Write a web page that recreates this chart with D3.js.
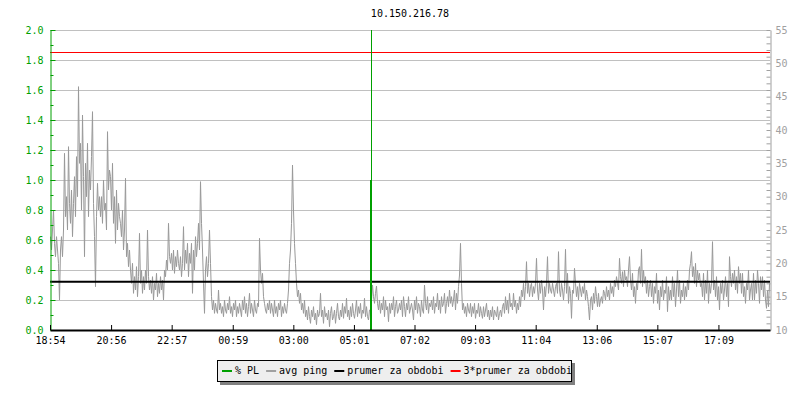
<!DOCTYPE html>
<html><head><meta charset="utf-8">
<script src="https://cdn.jsdelivr.net/npm/d3@7"></script>
<style>
body{margin:0;background:#fff}
svg{display:block}
text{font-family:"DejaVu Sans Mono",monospace;font-size:10px}
</style>
</head><body>
<svg id="c" width="800" height="400"></svg>
<script>
// ---------- data ----------
const title = "10.150.216.78";
const startTime = "18:54";
const endTime = "18:52";          // next day
const sampleStepMin = 2;          // minutes between ping samples
const xTickLabels = ["18:54","20:56","22:57","00:59","03:00","05:01","07:02","09:03","11:04","13:06","15:07","17:09"];
const plTicks = [0.0,0.2,0.4,0.6,0.8,1.0,1.2,1.4,1.6,1.8,2.0];
const plMinorTicks = [0.1,0.3,0.5,0.7,0.9,1.1,1.3,1.5,1.7,1.9];
const pingTicks = [10,15,20,25,30,35,40,45,50,55];
const pingMinorTicks = [11,12,13,14,16,17,18,19,21,22,23,24,26,27,28,29,31,32,33,34,36,37,38,39,41,42,43,44,46,47,48,49,51,52,53,54];
const pingValues = [
24,22,25,28,23,21,24,22,20,14.5,
22,24,21,25,36.5,27,30,25,37.5,29,
26,31,24,29,33,27,36,30,46.5,35,
38,28,42.25,33,21,35,30,38,27,34,
31,36,42.75,29,24,16.5,27,32,28,30,
27,30,26,32.5,28,29,25,39.75,31,34,
33,28,35,26,30,23,31,25,29,27,
26,24,28,22,25,32.75,21,23,19.5,22,
19,17,20,15.5,18,16,19.5,15,18,24.5,
17,19,15.5,18,16,19,17,25,18,16,
17.5,15.5,18,14.5,17,16,18.5,15,17,15.5,
18,16,17.5,14.5,19,18,20.5,19,26,21,
20,21.5,19,22,18.5,21,19.5,22,20,19,
21,18,20,25.5,19,22,20,23,18,21.5,
20,23,15.5,22,19,24,21,23,26,22,
32.25,26,22,17,12.5,19,21,18,20,25,
20,15,13,14.5,12.5,14,13,12.5,16,13,
14,12.5,13.5,12,14.5,13,12.5,14,13,15,
12.5,13.5,12,14,13,14.5,12,13.5,12.5,14,
13,12,14.5,13,15,12.5,14,12,13.5,15.5,
12.5,14,13,12,14.5,13,12.5,14,13.5,23.75,
19,17,18.5,15,14,13,12.5,14,13,14.5,
12.5,14,13,12,14.5,12.5,13.5,12,14,13,
14.5,12,13.5,12.5,14,13,12.5,14,16,20,
22,26,34.75,28,23,20,17,15,16,14,
15.5,13,14,12.5,14.5,12,13,11.5,13.5,12,
11,13,12,13.5,11.5,12.5,10.8,13,12,12.5,
15.5,12,13,11,13.5,12,12.5,11.5,13,10.5,
12.5,13.5,11.5,12,13,11,12.5,14,12,11.5,
13,12,14,11.75,13.5,12.5,14.75,12,13,11.5,
13.5,12,14,12.5,11.75,13,14.5,12,13.5,12.5,
14,11.75,13,12.5,14.75,12,13.5,12,11.5,13,
13,14.5,16.75,15,14,15.5,16.6,14,13,14.5,
12.5,14,13,15,12,14.5,13,13.5,11.25,14,
12.5,14,13,15,12,13.5,14.5,12.5,13,14,
13,14.5,12,15,13.5,12,14,13,15,12.5,
14,13,11.5,14.5,13,15,12.5,14,13.5,12,
14.5,13,12.5,16.75,14,13,15,12.5,14,13.5,
14.5,13,15,12.5,14,13.5,15.5,13,14.5,12.5,
15,13.5,14,15.5,12.5,14,15,13.5,16,14,
15,13.5,14.5,16,13,15.5,14,16.5,18.25,23,
17,13,14,12.5,13.5,12,14,13,12.5,14,
12,13.5,12.5,14,11.75,13,12.5,14,12,13.5,
12.5,11.75,13.5,12,13,14,12,13,11.5,13,
12,13.5,11.5,13,12.5,12,13.5,11.5,12.5,13,
12,13.5,14,12.5,15,13,14.5,12.5,15.5,13.5,
14,13,15.5,13.5,14.5,12.5,14,13,15,13.5,
16,15,17,14.5,16.5,20.25,15.5,17,15,16.5,
17,15,16.5,15.5,17,20.75,16,14.5,17,15.5,
17.5,16,13,16.5,15,17,21,15.5,17,16,
15.5,17,16,15,16.5,17,15.5,21.75,16,15,
17,16,14.5,16.5,22.1,15.5,18.5,14,16.5,15.5,
11.75,16,15.5,19.25,17,15,16.5,14.5,17,16,
15,16.5,15.5,17,14.5,16,15,13.5,11.5,14.5,
15,13,15.5,14,16.5,15,13.5,15.5,13.5,14.5,
15,14,16,15.5,14.5,16.5,15,16,14.5,17,
15.5,16.5,15,17.5,16.5,18,17,16,20.75,18,
17,18.75,16.5,19,17.5,18,16.5,19,21,17.5,
16,18.5,15,16.5,14,17,16,19,19.5,17,
22.1,16.5,19,17,18,15.5,17.5,15,16.5,17.5,
15,17,14,16.5,15.5,18.5,14,16,13,16.5,
15,17.5,14.5,16,15.5,18,12.75,16.5,14.5,16,
14.5,18,15,17,13.5,16,19,15,17.5,14,
16,15,17,14.5,16.5,15,17.5,16,19,20,
21.75,18,19.5,17,20,16.5,19,17.5,18.5,16.5,
17,15,18.5,14.5,17.5,15.5,19,14,17,15.5,
17,23.25,16,17.5,15,18,14.5,16.5,13,17,
15.5,17.5,14.5,16,18,15,17,13.5,21,18,
16.5,18.5,17,19,16,18,15.5,19.5,17,18.5,
15.5,18.5,15,16.5,14,17,16,19,14.5,16,
17,14.5,18.5,14.5,17.5,15.5,19,17,14,18,
16,18,15,17.5,14.5,13.25,16,13.5,17,15.5
];
const plEventTime = "05:36";
const plEventValue = 1.0;
const meanPing = 17.25;
const legendLabels = ["% PL","avg ping","prumer za obdobi","3*prumer za obdobi"];
const legendColors = ["#00a000","#a0a0a0","#000000","#ff0000"];

// ---------- helpers ----------
const base = new Date(2000,0,1,18,54);
const startMin = 18*60+54;
function toDate(hm){
  const [h,m] = hm.split(":").map(Number);
  let t = h*60+m;
  if (t < startMin) t += 1440;
  return new Date(base.getTime() + (t-startMin)*60000);
}
function toDateEnd(hm){
  const [h,m] = hm.split(":").map(Number);
  let t = h*60+m;
  if (t <= startMin) t += 1440;
  return new Date(base.getTime() + (t-startMin)*60000);
}

// ---------- layout ----------
const L=50, R=770, T=30, B=330;
const svg = d3.select("#c");
const x = d3.scaleTime().domain([toDate(startTime), toDateEnd(endTime)]).range([L,R]);
const yPL = d3.scaleLinear().domain([0,2]).range([B,T]);
const yPing = d3.scaleLinear().domain([10,55]).range([B,T]);
const green = "#00a000", grey="#a0a0a0";

svg.append("text").attr("x",410).attr("y",17).attr("text-anchor","middle").attr("fill","#000").text(title);

// gridlines
svg.append("g").selectAll("line").data(plTicks.filter(d=>d>0)).join("line")
  .attr("x1",L).attr("x2",R).attr("y1",d=>Math.round(yPL(d))+0.5).attr("y2",d=>Math.round(yPL(d))+0.5)
  .attr("stroke","#c0c0c0").attr("stroke-width",1);

// clip
svg.append("clipPath").attr("id","clip").append("rect").attr("x",L).attr("y",T).attr("width",R-L).attr("height",B-T);

// ping line
const pingData = pingValues.map((v,i)=>({t:new Date(base.getTime()+i*sampleStepMin*60000), v}));
svg.append("path").datum(pingData).attr("clip-path","url(#clip)")
  .attr("fill","none").attr("stroke","#999999").attr("stroke-width",1)
  .attr("d", d3.line().x(d=>Math.round(x(d.t))+0.5).y(d=>yPing(d.v)));

// mean lines
svg.append("line").attr("x1",L).attr("x2",R).attr("y1",yPing(meanPing)).attr("y2",yPing(meanPing))
  .attr("stroke","#000").attr("stroke-width",2);
svg.append("line").attr("x1",L).attr("x2",R).attr("y1",Math.round(yPing(3*meanPing))+0.5).attr("y2",Math.round(yPing(3*meanPing))+0.5)
  .attr("stroke","#ff0000").attr("stroke-width",1);

// PL event
const px = Math.round(x(toDate(plEventTime)));
svg.append("line").attr("x1",px+0.5).attr("x2",px+0.5).attr("y1",T).attr("y2",B)
  .attr("stroke",green).attr("stroke-width",1);
svg.append("line").attr("x1",px).attr("x2",px).attr("y1",yPL(plEventValue)).attr("y2",B)
  .attr("stroke",green).attr("stroke-width",2);

// left axis
const gl = svg.append("g").attr("transform",`translate(${L+0.5},0)`)
  .call(d3.axisLeft(yPL).tickValues(plTicks).tickFormat(d3.format(".1f")).tickSize(-5).tickSizeOuter(0).tickPadding(7));
gl.select(".domain").attr("stroke",green);
gl.selectAll(".tick line").attr("stroke",green);
gl.selectAll(".tick text").attr("fill",green).style("font-size","10px").style("font-family","DejaVu Sans Mono");
const glm = svg.append("g").attr("transform",`translate(${L+0.5},0)`)
  .call(d3.axisLeft(yPL).tickValues(plMinorTicks).tickFormat("").tickSize(-3).tickSizeOuter(0));
glm.select(".domain").remove();
glm.selectAll(".tick line").attr("stroke",green);

// right axis
const gr = svg.append("g").attr("transform",`translate(${R+0.5},0)`)
  .call(d3.axisRight(yPing).tickValues(pingTicks).tickSize(-4).tickSizeOuter(0).tickPadding(5));
gr.select(".domain").attr("stroke",grey);
gr.selectAll(".tick line").attr("stroke",grey);
gr.selectAll(".tick text").attr("fill",grey).style("font-size","10px").style("font-family","DejaVu Sans Mono");
const grm = svg.append("g").attr("transform",`translate(${R+0.5},0)`)
  .call(d3.axisRight(yPing).tickValues(pingMinorTicks).tickFormat("").tickSize(-4).tickSizeOuter(0));
grm.select(".domain").remove();
grm.selectAll(".tick line").attr("stroke",grey);

// bottom axis
const gb = svg.append("g").attr("transform",`translate(0,${B})`)
  .call(d3.axisBottom(x).tickValues(xTickLabels.map(toDate)).tickFormat((d,i)=>xTickLabels[i]).tickSize(-5).tickSizeOuter(0).tickPadding(7));
gb.select(".domain").attr("stroke","#000").attr("stroke-width",2);
gb.selectAll(".tick line").attr("stroke","#000");
gb.selectAll(".tick text").attr("fill","#000").style("font-size","10px").style("font-family","DejaVu Sans Mono");

// legend
const lg = svg.append("g");
lg.append("rect").attr("x",220).attr("y",363).attr("width",355).attr("height",22).attr("fill","#808080");
lg.append("rect").attr("x",217.5).attr("y",360.5).attr("width",354).attr("height",21).attr("fill","#eeeeee").attr("stroke","#000");
let lx = 222;
legendLabels.forEach((lab,i)=>{
  lg.append("rect").attr("x",lx).attr("y",370).attr("width",10).attr("height",2).attr("fill",legendColors[i]);
  const t = lg.append("text").attr("x",lx+13).attr("y",374).attr("fill","#000").text(lab);
  lx = lx + 13 + t.node().getComputedTextLength() + 7;
});
</script>
</body></html>
